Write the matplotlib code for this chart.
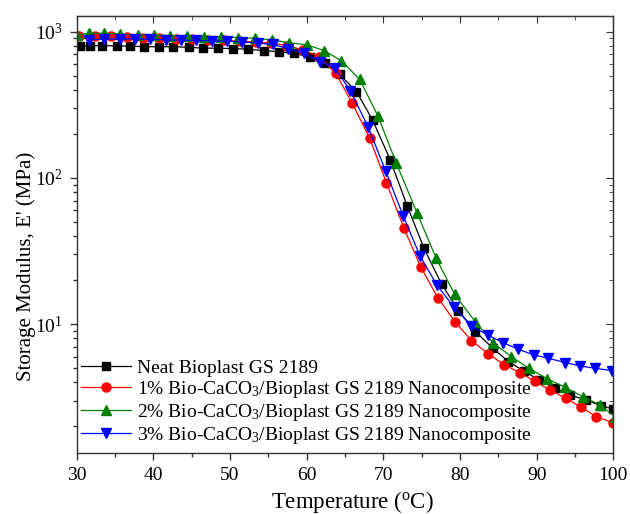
import matplotlib

matplotlib.use("Agg")
import matplotlib.pyplot as plt  # noqa: E402
from matplotlib.ticker import LogLocator, MultipleLocator, NullFormatter  # noqa: E402

# ---- data (Temperature in degC, E' in MPa) ----
neat_T = [30.4, 31.7, 33.3, 35.2, 36.9, 38.8, 40.7, 42.6, 44.6, 46.5, 48.5, 50.4,
          52.4, 54.5, 56.4, 58.4, 60.4, 62.4, 64.3, 66.5, 68.6, 70.9, 73.1, 75.3,
          77.6, 79.8, 82.0, 84.3, 86.3, 88.3, 90.3, 92.4, 94.3, 96.4, 98.4, 100.0]
neat_E = [798, 798, 804, 798, 798, 789, 789, 789, 782, 771, 771, 766,
          759, 741, 729, 711, 671, 608, 511, 389, 249, 133, 64.7, 33.1,
          18.8, 12.4, 8.91, 6.85, 5.56, 4.80, 4.16, 3.66, 3.29, 3.04, 2.77, 2.63]

p1_T = [30.3, 32.4, 34.5, 36.6, 38.7, 40.8, 42.9, 45.0, 47.1, 49.2, 51.3, 53.4,
        55.4, 57.5, 59.5, 61.6, 63.8, 65.9, 68.2, 70.4, 72.7, 74.9, 77.1, 79.35,
        81.5, 83.7, 85.8, 87.8, 89.8, 91.7, 93.8, 95.8, 97.8, 100.0]
p1_E = [938, 938, 929, 916, 908, 902, 895, 887, 877, 871, 861, 851,
        832, 804, 750, 675, 520, 327, 188, 92.9, 45.3, 24.5, 15.2, 10.4,
        7.73, 6.27, 5.27, 4.67, 4.06, 3.56, 3.12, 2.71, 2.33, 2.12]

p2_T = [30.0, 31.6, 33.6, 35.7, 38.0, 40.1, 42.2, 44.4, 46.6, 48.8, 51.1, 53.3,
        55.5, 57.7, 60.1, 62.3, 64.5, 66.9, 69.3, 71.7, 74.4, 76.9, 79.3, 82.0,
        84.3, 86.7, 89.0, 91.4, 93.7, 96.0, 98.25, 100.2]
p2_E = [948, 975, 975, 964, 948, 948, 940, 940, 925, 925, 910, 902,
        877, 841, 811, 741, 634, 473, 265, 126, 57.7, 28.2, 16.0, 10.4,
        7.48, 6.00, 5.00, 4.23, 3.71, 3.20, 2.81, 2.33]

p3_T = [31.6, 33.6, 35.6, 37.6, 39.6, 41.6, 43.6, 45.6, 47.6, 49.6, 51.6, 53.6,
        55.6, 57.6, 59.6, 61.8, 63.7, 65.7, 68.0, 70.3, 72.6, 74.8, 77.0, 79.2,
        81.5, 83.6, 85.6, 87.6, 89.6, 91.5, 93.7, 95.65, 97.6, 99.8]
p3_E = [881, 887, 891, 891, 887, 881, 875, 871, 865, 861, 851, 836,
        817, 767, 711, 624, 562, 395, 224, 112, 55.0, 29.2, 18.5, 13.1,
        9.73, 8.45, 7.48, 6.75, 6.17, 5.86, 5.47, 5.19, 5.00, 4.82]

labels = [
    "Neat Bioplast GS 2189",
    "1% Bio-CaCO$_3$/Bioplast GS 2189 Nanocomposite",
    "2% Bio-CaCO$_3$/Bioplast GS 2189 Nanocomposite",
    "3% Bio-CaCO$_3$/Bioplast GS 2189 Nanocomposite",
]

plt.rcParams["font.family"] = ["Liberation Serif", "DejaVu Serif"]
plt.rcParams["mathtext.fontset"] = "custom"
plt.rcParams["mathtext.rm"] = "Liberation Serif"
plt.rcParams["mathtext.it"] = "Liberation Serif:italic"
plt.rcParams["mathtext.default"] = "regular"

fig = plt.figure(figsize=(6.3, 5.14), dpi=100)
ax = fig.add_axes([0.1217, 0.118, 0.8518, 0.8515])

series = [
    (neat_T, neat_E, "black", "s", 6.0),
    (p1_T, p1_E, "red", "o", 6.5),
    (p2_T, p2_E, "green", "^", 7.0),
    (p3_T, p3_E, "blue", "v", 7.0),
]
for (t, e, c, m, ms), lab in zip(series, labels):
    ax.plot(t, e, color=c, marker=m, markersize=ms, lw=0.9, label=lab)

ax.set_yscale("log")
ax.set_xlim(30, 100)
ax.set_ylim(1.31, 1286)
ax.xaxis.set_major_locator(MultipleLocator(10))
ax.xaxis.set_minor_locator(MultipleLocator(5))
ax.yaxis.set_major_locator(LogLocator(base=10, numticks=10))
ax.yaxis.set_minor_locator(LogLocator(base=10, subs=range(2, 10), numticks=10))
ax.yaxis.set_minor_formatter(NullFormatter())

for s in ax.spines.values():
    s.set_color("#333333")
    s.set_linewidth(1.0)
ax.tick_params(axis="both", which="major", labelsize=14, length=5, width=1,
               color="#333333", pad=5)
ax.tick_params(axis="both", which="minor", length=3, width=1, color="#333333")
ax.tick_params(axis="both", which="both", direction="out")
ax2 = ax.secondary_xaxis("top")
ax2.xaxis.set_major_locator(MultipleLocator(10))
ax2.xaxis.set_minor_locator(MultipleLocator(5))
ax2.tick_params(which="both", direction="in", labeltop=False, color="#333333")
ax2.tick_params(which="major", length=5)
ax2.tick_params(which="minor", length=3)
ay2 = ax.secondary_yaxis("right")
ay2.set_yscale("log")
ay2.yaxis.set_major_locator(LogLocator(base=10, numticks=10))
ay2.yaxis.set_minor_locator(LogLocator(base=10, subs=range(2, 10), numticks=10))
ay2.tick_params(which="both", direction="in", labelright=False, color="#333333")
ay2.tick_params(which="major", length=5)
ay2.tick_params(which="minor", length=3)
ay2.yaxis.set_minor_formatter(NullFormatter())

ax.set_xlabel(r"Temperature ($^{\rm o}$C)", fontsize=16.5)
ax.set_ylabel("Storage Modulus, E' (MPa)", fontsize=15)
ax.xaxis.set_label_coords(0.513, -0.082)
ax.yaxis.set_label_coords(-0.075, 0.427)

ax.legend(loc="upper left", bbox_to_anchor=(0.0, 0.224), frameon=False,
          fontsize=14, handlelength=2.6, handletextpad=0.3, labelspacing=0.1,
          borderaxespad=0.0, borderpad=0.2)

fig.savefig("out.png", dpi=100)
